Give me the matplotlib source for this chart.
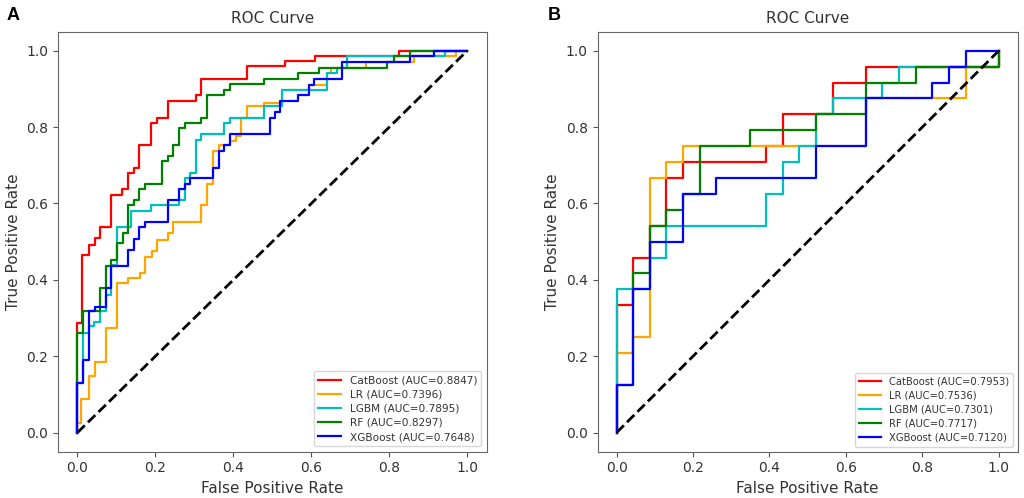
import numpy as np
import matplotlib
matplotlib.use('Agg')
import matplotlib.pyplot as plt

# model names and colours (same in both panels)
models = ['CatBoost', 'LR', 'LGBM', 'RF', 'XGBoost']
colors = ['red', 'orange', 'c', 'green', 'blue']

# ---- panel A : ROC points (fpr, tpr at each rise) ----
auc_a = [0.8847, 0.7396, 0.7895, 0.8297, 0.7648]

fpr_a_cat = [0, 0, 0.012, 0.029, 0.045, 0.059, 0.087, 0.115, 0.130, 0.145, 0.159,
             0.188, 0.203, 0.233, 0.303, 0.318, 0.435, 0.533, 0.610, 0.824, 1.0]
tpr_a_cat = [0, 0.288, 0.464, 0.490, 0.510, 0.538, 0.623, 0.638, 0.679, 0.694, 0.753,
             0.811, 0.824, 0.868, 0.885, 0.927, 0.961, 0.974, 0.987, 1.0, 1.0]

fpr_a_lr = [0, 0, 0.010, 0.029, 0.045, 0.072, 0.102, 0.130, 0.160, 0.174, 0.190,
            0.203, 0.233, 0.246, 0.318, 0.332, 0.347, 0.363, 0.392, 0.407, 0.419,
            0.434, 0.478, 0.525, 0.593, 0.639, 0.650, 0.740, 0.864, 0.971, 1.0]
tpr_a_lr = [0, 0.026, 0.087, 0.147, 0.186, 0.273, 0.391, 0.404, 0.418, 0.460, 0.476,
            0.505, 0.522, 0.551, 0.595, 0.651, 0.738, 0.753, 0.764, 0.777, 0.824,
            0.855, 0.864, 0.898, 0.911, 0.942, 0.956, 0.970, 0.985, 1.0, 1.0]

fpr_a_lgbm = [0, 0, 0.0145, 0.029, 0.043, 0.058, 0.072, 0.087, 0.102, 0.137, 0.188,
              0.261, 0.276, 0.289, 0.303, 0.318, 0.375, 0.392, 0.478, 0.525, 0.639,
              0.665, 0.692, 0.944, 1.0]
tpr_a_lgbm = [0, 0.130, 0.260, 0.278, 0.290, 0.318, 0.360, 0.440, 0.538, 0.580, 0.595,
              0.609, 0.667, 0.679, 0.766, 0.781, 0.811, 0.824, 0.855, 0.898, 0.942,
              0.956, 0.985, 1.0, 1.0]

fpr_a_rf = [0, 0, 0.0145, 0.058, 0.072, 0.087, 0.102, 0.116, 0.130, 0.145, 0.159,
            0.173, 0.218, 0.233, 0.246, 0.261, 0.276, 0.317, 0.332, 0.375, 0.392,
            0.478, 0.565, 0.621, 0.795, 0.811, 0.854, 1.0]
tpr_a_rf = [0, 0.260, 0.318, 0.378, 0.436, 0.451, 0.496, 0.522, 0.595, 0.609, 0.638,
            0.651, 0.710, 0.725, 0.753, 0.797, 0.811, 0.824, 0.884, 0.898, 0.913,
            0.927, 0.942, 0.956, 0.970, 0.985, 1.0, 1.0]

fpr_a_xgb = [0, 0, 0.0145, 0.029, 0.045, 0.072, 0.087, 0.130, 0.145, 0.159, 0.173,
             0.233, 0.261, 0.276, 0.289, 0.347, 0.363, 0.375, 0.392, 0.493, 0.507,
             0.520, 0.565, 0.593, 0.608, 0.680, 0.854, 0.914, 1.0]
tpr_a_xgb = [0, 0.130, 0.191, 0.318, 0.330, 0.378, 0.436, 0.477, 0.508, 0.538, 0.551,
             0.609, 0.638, 0.651, 0.667, 0.694, 0.738, 0.753, 0.781, 0.824, 0.840,
             0.868, 0.884, 0.911, 0.927, 0.970, 0.985, 1.0, 1.0]

# ---- panel B : ROC points as counts (23 negatives, 24 positives) ----
auc_b = [0.7953, 0.7536, 0.7301, 0.7717, 0.7120]
n_neg_b, n_pos_b = 23, 24

fp_b_cat = [0, 0, 1, 2, 3, 4, 9, 10, 13, 15, 23, 23]
tp_b_cat = [0, 8, 11, 13, 16, 17, 18, 20, 22, 23, 24, 24]

fp_b_lr = [0, 0, 1, 2, 3, 4, 15, 21, 23, 23]
tp_b_lr = [0, 5, 6, 16, 17, 18, 21, 23, 24, 24]

fp_b_lgbm = [0, 0, 2, 3, 9, 10, 11, 12, 13, 16, 17, 23, 23]
tp_b_lgbm = [0, 9, 11, 13, 15, 17, 18, 20, 21, 22, 23, 24, 24]

fp_b_rf = [0, 0, 1, 2, 3, 4, 5, 8, 12, 15, 18, 23, 23]
tp_b_rf = [0, 3, 10, 13, 14, 15, 18, 19, 20, 22, 23, 24, 24]

fp_b_xgb = [0, 0, 1, 2, 4, 6, 12, 15, 19, 20, 21, 23]
tp_b_xgb = [0, 3, 9, 12, 15, 16, 18, 21, 22, 23, 24, 24]

curves_a = [(fpr_a_cat, tpr_a_cat), (fpr_a_lr, tpr_a_lr), (fpr_a_lgbm, tpr_a_lgbm),
            (fpr_a_rf, tpr_a_rf), (fpr_a_xgb, tpr_a_xgb)]
curves_b = [(np.array(f) / n_neg_b, np.array(t) / n_pos_b) for f, t in
            [(fp_b_cat, tp_b_cat), (fp_b_lr, tp_b_lr), (fp_b_lgbm, tp_b_lgbm),
             (fp_b_rf, tp_b_rf), (fp_b_xgb, tp_b_xgb)]]

plt.rcParams['font.family'] = ['DejaVu Sans']
plt.rcParams['text.color'] = '#333333'
plt.rcParams['axes.labelcolor'] = '#333333'
plt.rcParams['xtick.color'] = '#555555'
plt.rcParams['ytick.color'] = '#555555'
plt.rcParams['xtick.labelcolor'] = '#333333'
plt.rcParams['ytick.labelcolor'] = '#333333'

fig = plt.figure(figsize=(10.24, 4.98), dpi=100)
ax_a = fig.add_axes([0.0566, 0.093, 0.4187, 0.8434])
ax_b = fig.add_axes([0.5835, 0.093, 0.4105, 0.8434])


def draw_panel(ax, curves, aucs, fs):
    for (fpr, tpr), name, col, auc in zip(curves, models, colors, aucs):
        ax.plot(fpr, tpr, drawstyle='steps-post', color=col, lw=1.6,
                label=f'{name} (AUC={auc:.4f})')
    ax.plot([0, 1], [0, 1], 'k--', lw=2)
    ax.set_title('ROC Curve', fontsize=11)
    ax.set_xlabel('False Positive Rate', fontsize=11)
    ax.set_ylabel('True Positive Rate', fontsize=11)
    ax.tick_params(labelsize=10)
    for s in ax.spines.values():
        s.set_color('#666666')
    ax.legend(loc='lower right', fontsize=fs, handlelength=2.2, labelspacing=0.4)


draw_panel(ax_a, curves_a, auc_a, 7.6)
draw_panel(ax_b, curves_b, auc_b, 7.2)

fig.text(0.006, 0.985, 'A', fontsize=13, fontweight='bold', va='top',
         family=['Liberation Sans'], color='black')
fig.text(0.535, 0.985, 'B', fontsize=13, fontweight='bold', va='top',
         family=['Liberation Sans'], color='black')

plt.savefig('out.png', dpi=100)
